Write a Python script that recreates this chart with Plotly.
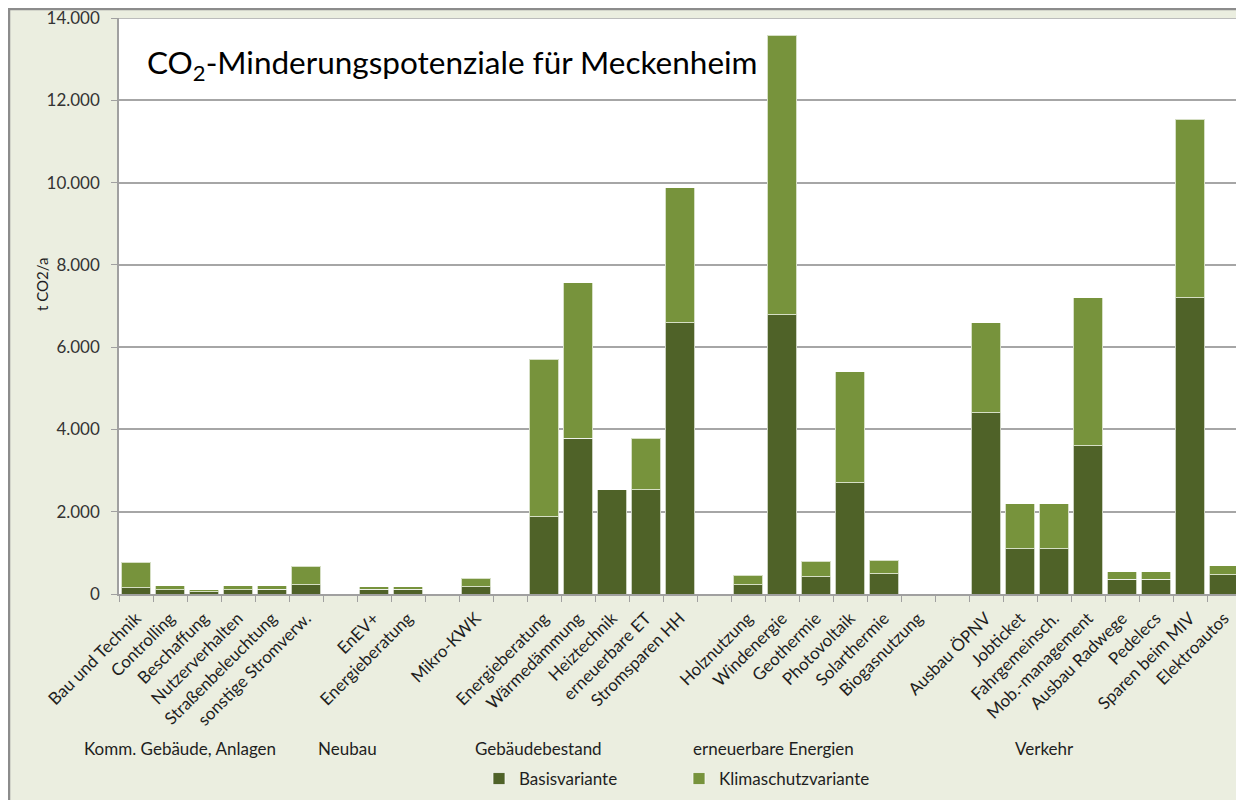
import plotly.graph_objects as go

# ---------------- data ----------------
categories = ["Bau und Technik", "Controlling", "Beschaffung", "Nutzerverhalten",
              "Straßenbeleuchtung", "sonstige Stromverw.", "",
              "EnEV+", "Energieberatung", "",
              "Mikro-KWK", "",
              "Energieberatung", "Wärmedämmung", "Heiztechnik", "erneuerbare ET",
              "Stromsparen HH", "",
              "Holznutzung", "Windenergie", "Geothermie", "Photovoltaik",
              "Solarthermie", "Biogasnutzung", "",
              "Ausbau ÖPNV", "Jobticket", "Fahrgemeinsch.", "Mob.-management",
              "Ausbau Radwege", "Pedelecs", "Sparen beim MIV", "Elektroautos"]

basisvariante = [150, 100, 50, 100, 120, 220, 0,
                 110, 110, 0,
                 180, 0,
                 1880, 3780, 2530, 2530, 6590, 0,
                 225, 6790, 420, 2700, 490, 0, 0,
                 4400, 1100, 1100, 3600, 355, 355, 7200, 470]

# additional potential of the Klimaschutzvariante (stacked on top)
klimaschutzvariante = [620, 100, 50, 100, 80, 450, 0,
                       70, 70, 0,
                       200, 0,
                       3820, 3780, 0, 1250, 3290, 0,
                       235, 6790, 380, 2700, 330, 0, 0,
                       2190, 1090, 1090, 3600, 180, 180, 4340, 220]

group_labels = ["Komm. Gebäude, Anlagen", "Neubau", "Gebäudebestand",
                "erneuerbare Energien", "Verkehr"]

y_ticks = [0, 2000, 4000, 6000, 8000, 10000, 12000, 14000]

# ---------------- figure ----------------
n = len(categories)
xpos = list(range(n))
label_pos = [i for i, c in enumerate(categories) if c]
label_txt = [c for c in categories if c]
boundaries = [i - 0.5 for i in range(n + 1)]

FONT = "Lato"
DARK = "#4F6228"
LIGHT = "#77933C"
BG = "#EBEEE0"
TXT = "#1E1E1E"
OFF = 8  # page body margin

fig = go.Figure()
fig.add_trace(go.Bar(x=xpos, y=basisvariante, name="Basisvariante",
                     marker=dict(color=DARK, line=dict(color="rgba(255,255,255,0.7)", width=1))))
fig.add_trace(go.Bar(x=xpos, y=klimaschutzvariante, name="Klimaschutzvariante",
                     marker=dict(color=LIGHT, line=dict(color="rgba(255,255,255,0.7)", width=1))))

W, H = 1236, 792
L, R, T, B = 111, 3, 10, 206
pw, ph = W - L - R, H - T - B


def px_x(px):
    return (px - OFF - L) / pw


def px_y(py):
    return (H - B - (py - OFF)) / ph


fig.update_layout(
    width=W, height=H,
    barmode="stack", bargap=0.13,
    paper_bgcolor=BG, plot_bgcolor="white",
    margin=dict(l=L, r=R, t=T, b=B),
    separators=",.",
    font=dict(family=FONT, size=15, color=TXT),
    showlegend=True,
    legend=dict(orientation="h", traceorder="normal",
                x=px_x(479), y=px_y(779), xanchor="left", yanchor="middle",
                entrywidth=155, entrywidthmode="pixels",
                font=dict(family=FONT, size=17, color=TXT), bgcolor="rgba(0,0,0,0)"),
    xaxis=dict(range=[-0.5, n - 0.5], tickmode="array", tickvals=label_pos, ticktext=label_txt,
               tickangle=-45, ticks="", showgrid=False, ticklabelstandoff=6,
               minor=dict(tickmode="array", tickvals=boundaries, ticks="outside", ticklen=6,
                          tickcolor="#A0A0A0", showgrid=False),
               showline=True, linecolor="#A0A0A0", linewidth=1.5, zeroline=False,
               tickfont=dict(family=FONT, size=17, color=TXT), automargin=False),
    yaxis=dict(range=[0, 14000], tickvals=y_ticks, tickformat=",d",
               ticks="outside", ticklen=6, tickcolor="#A0A0A0", ticklabelstandoff=8,
               ticklabeloverflow="allow",
               showline=True, linecolor="#A0A0A0", linewidth=1.5,
               showgrid=True, gridcolor="#A6A6A6", gridwidth=1.5, zeroline=False,
               tickfont=dict(family=FONT, size=17, color="#333333"), automargin=False),
)

annotations = [
    dict(text="CO<sub>2</sub>-Minderungspotenziale für Meckenheim", xref="paper", yref="paper",
         x=px_x(145), y=px_y(65), xanchor="left", yanchor="middle", showarrow=False,
         font=dict(family=FONT, size=31.5, color="#000000")),
    dict(text="t CO2/a", xref="paper", yref="paper", x=px_x(42), y=px_y(285),
         xanchor="center", yanchor="middle", textangle=-90, showarrow=False,
         font=dict(family=FONT, size=15, color=TXT)),
]
group_x = [82, 316, 473, 691, 1013]
for lbl, gx in zip(group_labels, group_x):
    annotations.append(dict(text=lbl, xref="paper", yref="paper", x=px_x(gx), y=px_y(748),
                            xanchor="left", yanchor="middle", showarrow=False,
                            font=dict(family=FONT, size=17, color=TXT)))
fig.update_layout(annotations=annotations)

# outer chart border (top and left edges of the chart)
fig.add_shape(type="line", xref="paper", yref="paper", x0=px_x(8), x1=px_x(OFF + W), y0=px_y(9), y1=px_y(9),
              line=dict(color="#8C8C8C", width=2.5))
fig.add_shape(type="line", xref="paper", yref="paper", x0=px_x(9), x1=px_x(9), y0=px_y(8), y1=px_y(OFF + H),
              line=dict(color="#8C8C8C", width=2.5))
# top edge of plot area (14.000 grid line)
fig.add_shape(type="line", xref="paper", yref="y", x0=0, x1=1, y0=y_ticks[-1], y1=y_ticks[-1],
              line=dict(color="#A6A6A6", width=1.5), layer="above")

fig.write_html("out.html")
